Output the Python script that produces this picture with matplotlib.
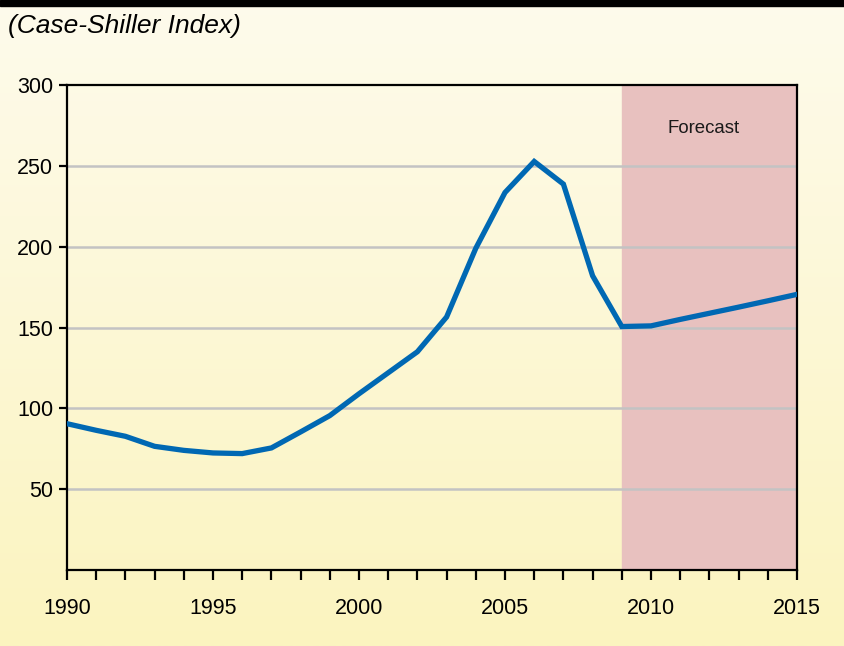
import matplotlib.pyplot as plt
import numpy as np

# Case-Shiller index, history + forecast
years = [1990, 1991, 1992, 1993, 1994, 1995, 1996, 1997, 1998, 1999,
         2000, 2001, 2002, 2003, 2004, 2005, 2006, 2007, 2008, 2009,
         2010, 2011, 2012, 2013, 2014, 2015]
index_values = [90.5, 86.4, 82.7, 76.5, 74.0, 72.4, 72.0, 75.5, 85.4, 95.5,
                109.0, 122.0, 135.0, 156.5, 199.0, 233.5, 252.7, 238.7, 182.0, 150.6,
                151.0, 155.0, 158.8, 162.6, 166.5, 170.5]
forecast_start = 2009
forecast_end = 2015
x_ticks = [1990, 1995, 2000, 2005, 2010, 2015]
y_ticks = [50, 100, 150, 200, 250, 300]

plt.rcParams['font.family'] = ['Liberation Sans', 'DejaVu Sans']

fig = plt.figure(figsize=(8.44, 6.46), dpi=100)

# background gradient (cream at top -> pale yellow at bottom)
bg = fig.add_axes([0, 0, 1, 1], zorder=-10)
top_col = np.array([254, 251, 236]) / 255
bot_col = np.array([251, 244, 191]) / 255
t = np.linspace(0, 1, 256)[:, None]
grad = top_col[None, :] * (1 - t) + bot_col[None, :] * t
bg.imshow(grad[:, None, :], aspect='auto', extent=[0, 1, 0, 1])
bg.axhspan(1 - 6 / 646, 1, color='black')
bg.set_xlim(0, 1)
bg.set_ylim(0, 1)
bg.axis('off')

ax = fig.add_axes([67 / 844, 1 - 570 / 646, (797 - 67) / 844, (570 - 85) / 646])
ax.patch.set_alpha(0)

ax.axvspan(forecast_start, forecast_end, color='#E8C1BF', zorder=0)
for yv in y_ticks[:-1]:
    ax.axhline(yv, color='#C3C3C3', linewidth=1.8, zorder=1)

ax.plot(years, index_values, color='#0068B3', linewidth=3.8,
        solid_joinstyle='miter', zorder=3)

ax.text(2011.8, 273, 'Forecast', fontsize=13.4, ha='center', va='center', color='#1a1a1a')

ax.set_xlim(1990, 2015)
ax.set_ylim(0, 300)
ax.set_xticks(x_ticks)
ax.set_xticks(range(1990, 2016), minor=True)
ax.set_yticks(y_ticks)

for s in ax.spines.values():
    s.set_linewidth(1.6)
    s.set_color('black')

ax.tick_params(axis='x', which='both', direction='out', length=7, width=1.6, pad=13, labelsize=15.5)
ax.tick_params(axis='y', direction='out', length=6, width=1.6, pad=4, labelsize=15.5)

fig.text(8 / 844, 1 - 26 / 646, '(Case-Shiller Index)', fontsize=19, style='italic',
         ha='left', va='center')

fig.savefig('out.png', dpi=100)
